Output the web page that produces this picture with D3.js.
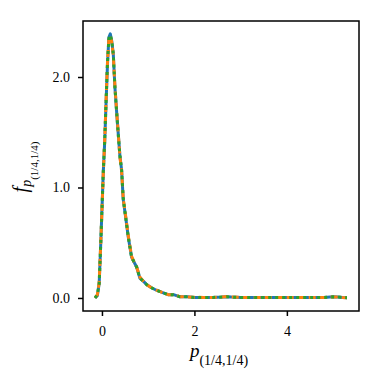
<!DOCTYPE html>
<html>
<head>
<meta charset="utf-8">
<script src="https://cdn.jsdelivr.net/npm/d3@7"></script>
<style>
  body { margin: 0; background: #fff; }
  svg { display: block; }
  text { font-family: "Liberation Serif", "DejaVu Serif", serif; fill: #000; }
</style>
</head>
<body>
<svg width="382" height="382"></svg>
<script>
// grid of p values and the three density estimates (they overlap almost exactly)
const pGrid = [-0.15, -0.1, -0.06, -0.03, 0.0, 0.03, 0.06, 0.09, 0.12, 0.15, 0.18, 0.21, 0.245, 0.28, 0.33, 0.39, 0.425, 0.46, 0.51, 0.57, 0.64, 0.7, 0.75, 0.82, 0.9, 0.97, 1.08, 1.18, 1.3, 1.43, 1.55, 1.69, 1.85, 2.0, 2.2, 2.4, 2.6, 2.7, 2.8, 3.0, 3.3, 3.6, 3.9, 4.2, 4.5, 4.8, 5.0, 5.1, 5.2, 5.3];
const fBlue = [0.0, 0.02, 0.13, 0.45, 0.8, 1.15, 1.42, 1.78, 2.12, 2.36, 2.39, 2.33, 2.21, 1.91, 1.61, 1.28, 1.16, 0.89, 0.74, 0.55, 0.37, 0.32, 0.28, 0.18, 0.15, 0.12, 0.09, 0.07, 0.05, 0.03, 0.03, 0.01, 0.01, 0.005, 0.005, 0.005, 0.008, 0.012, 0.008, 0.005, 0.004, 0.004, 0.004, 0.004, 0.004, 0.005, 0.01, 0.008, 0.005, 0.003];
const fOrange = [0.0, 0.03, 0.14, 0.46, 0.79, 1.14, 1.43, 1.8, 2.14, 2.35, 2.37, 2.32, 2.2, 1.92, 1.62, 1.27, 1.15, 0.9, 0.75, 0.56, 0.38, 0.32, 0.28, 0.19, 0.15, 0.12, 0.09, 0.07, 0.05, 0.03, 0.03, 0.012, 0.01, 0.006, 0.005, 0.005, 0.008, 0.013, 0.008, 0.005, 0.004, 0.004, 0.004, 0.004, 0.004, 0.005, 0.009, 0.008, 0.005, 0.003];
const fGreen = [0.0, 0.03, 0.13, 0.45, 0.8, 1.16, 1.43, 1.79, 2.13, 2.35, 2.38, 2.33, 2.21, 1.91, 1.61, 1.28, 1.16, 0.9, 0.74, 0.55, 0.37, 0.32, 0.28, 0.18, 0.15, 0.12, 0.09, 0.07, 0.05, 0.03, 0.03, 0.01, 0.01, 0.005, 0.005, 0.005, 0.008, 0.012, 0.008, 0.005, 0.004, 0.004, 0.004, 0.004, 0.004, 0.005, 0.01, 0.008, 0.005, 0.003];
const xTicks = [0, 2, 4];
const yTicks = [0, 1, 2];

const svg = d3.select('svg');

// plot box
const boxLeft = 83, boxRight = 359, boxTop = 21, boxBottom = 311;

const scaleX = d3.scaleLinear()
  .domain([-0.41, 5.56])
  .range([boxLeft, boxRight]);

const scaleY = d3.scaleLinear()
  .domain([-0.118, 2.507])
  .range([boxBottom, boxTop]);

// series
const series = [
  { vals: fBlue, color: '#1f77b4', dash: null },
  { vals: fOrange, color: '#ff7f0e', dash: '7,4' },
  { vals: fGreen, color: '#2ca02c', dash: '3,4' }
];

const line = d3.line()
  .x(d => scaleX(d[0]))
  .y(d => scaleY(d[1]))
  .curve(d3.curveLinear);

series.forEach(s => {
  svg.append('path')
    .datum(pGrid.map((p, i) => [p, s.vals[i]]))
    .attr('d', line)
    .attr('fill', 'none')
    .attr('stroke', s.color)
    .attr('stroke-width', 3)
    .attr('stroke-linejoin', 'round')
    .attr('stroke-dasharray', s.dash);
});

// frame
svg.append('rect')
  .attr('x', boxLeft)
  .attr('y', boxTop)
  .attr('width', boxRight - boxLeft)
  .attr('height', boxBottom - boxTop)
  .attr('fill', 'none')
  .attr('stroke', '#000')
  .attr('stroke-width', 1.5);

// X axis
const axisX = d3.axisBottom(scaleX)
  .tickValues(xTicks)
  .tickSizeInner(5)
  .tickSizeOuter(0)
  .tickPadding(10)
  .tickFormat(d3.format('d'));
const gx = svg.append('g')
  .attr('transform', `translate(0, ${boxBottom})`)
  .call(axisX);

// Y axis
const axisY = d3.axisLeft(scaleY)
  .tickValues(yTicks)
  .tickSizeInner(5)
  .tickSizeOuter(0)
  .tickPadding(8)
  .tickFormat(d3.format('.1f'));
const gy = svg.append('g')
  .attr('transform', `translate(${boxLeft}, 0)`)
  .call(axisY);

[gx, gy].forEach(g => {
  g.select('.domain').remove();
  g.selectAll('.tick line').attr('stroke', '#000').attr('stroke-width', 1.5);
  g.selectAll('.tick text')
    .attr('font-family', '"Liberation Serif", "DejaVu Serif", serif')
    .attr('font-size', 14);
});

// axis labels
const xLabel = svg.append('text')
  .attr('x', 219)
  .attr('y', 357)
  .attr('text-anchor', 'middle')
  .attr('font-size', 19);
xLabel.append('tspan').attr('font-style', 'italic').text('p');
xLabel.append('tspan').attr('font-size', 14).attr('dy', 8).text('(1/4,1/4)');

const yLabel = svg.append('text')
  .attr('transform', `translate(27, 167) rotate(-90)`)
  .attr('text-anchor', 'middle')
  .attr('font-size', 20);
yLabel.append('tspan').attr('font-style', 'italic').text('f');
yLabel.append('tspan').attr('font-style', 'italic').attr('font-size', 14).attr('dy', 4).text('p');
yLabel.append('tspan').attr('font-size', 11).attr('dy', 7).text('(1/4,1/4)');
</script>
</body>
</html>
